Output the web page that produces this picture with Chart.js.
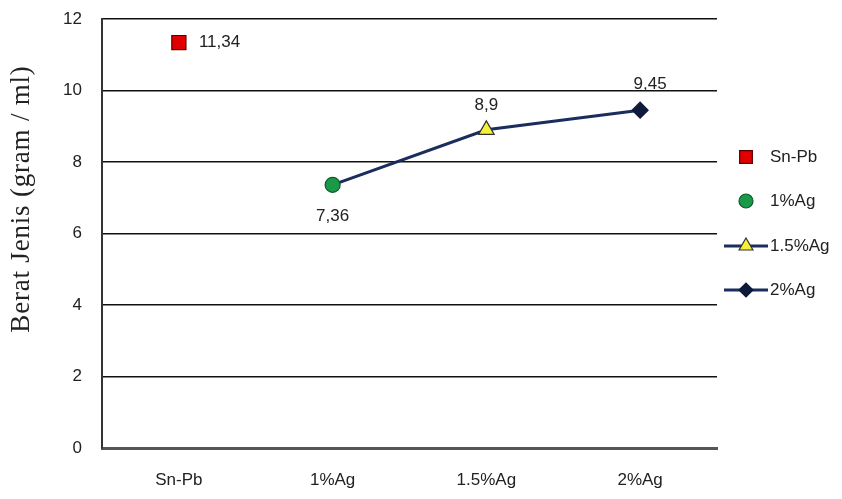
<!DOCTYPE html>
<html><head><meta charset="utf-8">
<script src="https://cdn.jsdelivr.net/npm/chart.js@4.4.1/dist/chart.umd.min.js"></script>
<style>html,body{margin:0;padding:0;background:#fff}#wrap{width:842px;height:499px;position:relative}</style>
</head><body><div id="wrap"><canvas id="c" width="842" height="499"></canvas></div>
<script>
const categories = ["Sn-Pb", "1%Ag", "1.5%Ag", "2%Ag"];
const seriesNames = ["Sn-Pb", "1%Ag", "1.5%Ag", "2%Ag"];
const values = [11.34, 7.36, 8.9, 9.45];
const valueLabels = ["11,34", "7,36", "8,9", "9,45"];
const yTicks = [0, 2, 4, 6, 8, 10, 12];
const yTitle = "Berat Jenis (gram / ml)";

const pointStyles = ["rect", "circle", "triangle", "rectRot"];
const fills = ["#e00000", "#1a9a48", "#f5f03a", "#0d1a3a"];
const borders = ["#5a0000", "#0b5a28", "#333333", "#0d1a3a"];
const radii = [10, 7.5, 9, 8];
const lineColor = "#1b2d5e";
const FONT = "'Liberation Sans', sans-serif";

const lineData = categories.map((c, i) => i === 0 ? null : values[i]);
const datasets = [{
  label: "line", data: lineData, borderColor: lineColor, borderWidth: 3,
  pointRadius: 0, showLine: true, fill: false, spanGaps: false, order: 10
}];
seriesNames.forEach((n, i) => {
  datasets.push({
    label: n,
    data: categories.map((c, j) => j === i ? values[i] : null),
    showLine: false, pointStyle: pointStyles[i], pointRadius: radii[i],
    pointBackgroundColor: fills[i], pointBorderColor: borders[i], pointBorderWidth: 1.2,
    borderColor: lineColor, order: 1
  });
});

const labelPlugin = {
  id: "labels",
  afterDraw(chart) {
    const ctx = chart.ctx;
    ctx.save();
    ctx.font = "17px " + FONT;
    ctx.fillStyle = "#222";
    const offs = [[20, 0, "left"], [0, 31, "center"], [0, -25, "center"], [10, -26, "center"]];
    for (let i = 0; i < seriesNames.length; i++) {
      const meta = chart.getDatasetMeta(i + 1);
      const p = meta.data[i];
      ctx.textAlign = offs[i][2];
      ctx.textBaseline = "middle";
      ctx.fillText(valueLabels[i], p.x + offs[i][0], p.y + offs[i][1]);
    }
    // legend
    const lx = 746, ys = [157, 201, 246, 290];
    const lr = [9, 7, 8, 7];
    for (let i = 0; i < seriesNames.length; i++) {
      const y = ys[i];
      if (i >= 2) {
        ctx.strokeStyle = lineColor; ctx.lineWidth = 3;
        ctx.beginPath(); ctx.moveTo(724, y); ctx.lineTo(768, y); ctx.stroke();
      }
      ctx.fillStyle = fills[i]; ctx.strokeStyle = borders[i]; ctx.lineWidth = 1.2;
      Chart.helpers.drawPoint(ctx, {pointStyle: pointStyles[i], radius: lr[i], borderWidth: 1.2}, lx, y);
      ctx.fillStyle = "#222";
      ctx.textAlign = "left"; ctx.textBaseline = "middle";
      ctx.fillText(seriesNames[i], 770, y);
    }
    // y title
    ctx.translate(22, 199);
    ctx.rotate(-Math.PI / 2);
    ctx.font = "27px 'Liberation Serif', serif";
    ctx.letterSpacing = "0.8px";
    ctx.textAlign = "center"; ctx.textBaseline = "middle";
    ctx.fillStyle = "#222";
    ctx.fillText(yTitle, 0, 0);
    ctx.restore();
  }
};

new Chart(document.getElementById("c"), {
  type: "line",
  data: { labels: categories, datasets },
  plugins: [labelPlugin],
  options: {
    responsive: false, animation: false,
    layout: { autoPadding: false, padding: { top: 19, right: 125, left: 0, bottom: 0 } },
    plugins: { legend: { display: false }, tooltip: { enabled: false } },
    scales: {
      x: {
        offset: true,
        grid: { display: false, drawTicks: false },
        border: { display: true, color: "#555", width: 3 },
        ticks: { color: "#222", font: { family: FONT, size: 17 }, padding: 22 },
        afterFit(s) { s.height = 51; s.paddingLeft = 0; s.paddingRight = 0; }
      },
      y: {
        min: 0, max: 12,
        afterBuildTicks(s) { s.ticks = yTicks.map(v => ({ value: v })); },
        grid: { color: "#111", lineWidth: 1.5, drawTicks: false },
        border: { display: true, color: "#333", width: 2 },
        ticks: { color: "#222", font: { family: FONT, size: 17 }, padding: 20 },
        title: { display: false, text: yTitle },
        afterFit(s) { s.width = 102; s.paddingTop = 0; s.paddingBottom = 0; }
      }
    }
  }
});
</script></body></html>
